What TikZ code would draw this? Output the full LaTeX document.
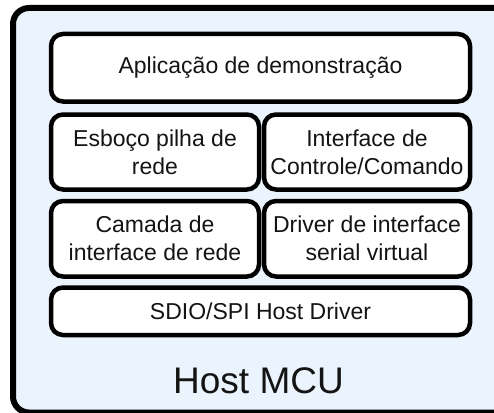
\documentclass[tikz,border=0pt]{standalone}
\usepackage{fontspec}
\setmainfont{Liberation Sans}
\definecolor{hostbg}{RGB}{235,243,253}
\definecolor{inktext}{RGB}{20,20,20}
\begin{document}
\begin{tikzpicture}[x=1pt,y=-1pt,
  layerbox/.style={draw=black, line width=4.5pt, rounded corners=12pt, fill=white,
    inner sep=0pt, align=center, text=inktext,
    font=\fontsize{23}{28}\selectfont},
  hostbox/.style={draw=black, line width=6pt, rounded corners=16pt, fill=hostbg}]
\clip (0,0) rectangle (494,412);
\fill[white] (0,0) rectangle (494,412);
% host board outline, running past the right edge
\draw[hostbox] (13,8) rectangle (530,412.5);
% software layers
\node[layerbox, minimum width=419pt, minimum height=67.5pt] (app) at (260.5,67.75)
  {Aplicação de demonstração};
\node[layerbox, minimum width=208pt, minimum height=75pt] (stack) at (155,152)
  {Esboço pilha de\\rede};
\node[layerbox, minimum width=206pt, minimum height=75pt] (ctrl) at (367,152)
  {Interface de\\Controle/Comando};
\node[layerbox, minimum width=208pt, minimum height=75.5pt] (netif) at (155,238.75)
  {Camada de\\interface de rede};
\node[layerbox, minimum width=206pt, minimum height=75.5pt] (serial) at (367,238.75)
  {Driver de interface\\serial virtual};
\node[layerbox, minimum width=419pt, minimum height=47.5pt] (hostdrv) at (260.5,311.25)
  {SDIO/SPI Host Driver};
% board label
\node[anchor=base, inner sep=0pt, text=inktext, font=\fontsize{37}{44}\selectfont]
  (mcu) at (258.5,393) {Host MCU};
\end{tikzpicture}
\end{document}
